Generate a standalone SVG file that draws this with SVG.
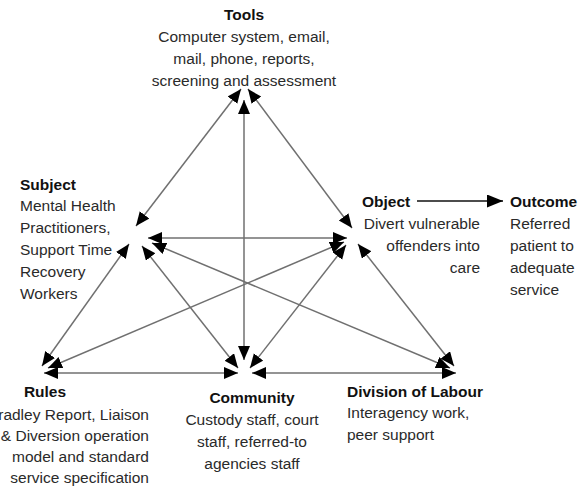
<svg xmlns="http://www.w3.org/2000/svg" width="585" height="488" viewBox="0 0 585 488">
  <style>
    text { font-family: "Liberation Sans", Arial, sans-serif; font-size: 15.5px; fill: #2a2a2a; }
    .title { font-weight: bold; fill: #111; }
    .mid { text-anchor: middle; }
    .end { text-anchor: end; }
    .link { stroke: #707070; stroke-width: 1.5; fill: none; marker-start: url(#head); marker-end: url(#head); }
    .flow { stroke: #111; stroke-width: 1.6; fill: none; marker-end: url(#headBig); }
  </style>
  <defs>
    <marker id="head" markerUnits="userSpaceOnUse" markerWidth="16" markerHeight="13" refX="14" refY="6" orient="auto-start-reverse">
      <path d="M0,0 L14,6 L0,12 z" fill="#000"/>
    </marker>
    <marker id="headBig" markerUnits="userSpaceOnUse" markerWidth="17" markerHeight="14" refX="16" refY="6.5" orient="auto">
      <path d="M0,0 L16,6.5 L0,13 z" fill="#000"/>
    </marker>
  </defs>
  <rect width="585" height="488" fill="#fff"/>

  <!-- relationships between the elements of the activity system -->
  <g id="connectors">
    <line class="link" x1="241" y1="89" x2="136" y2="226"/>
    <line class="link" x1="248" y1="89" x2="352" y2="228"/>
    <line class="link" x1="244" y1="100" x2="244" y2="360"/>
    <line class="link" x1="148" y1="238" x2="347" y2="238"/>
    <line class="link" x1="129" y1="244" x2="42" y2="366"/>
    <line class="link" x1="358" y1="244" x2="454" y2="366"/>
    <line class="link" x1="142" y1="246" x2="238" y2="368"/>
    <line class="link" x1="346" y1="245" x2="250" y2="368"/>
    <line class="link" x1="152" y1="243" x2="450" y2="368"/>
    <line class="link" x1="344" y1="242" x2="48" y2="368"/>
    <line class="link" x1="44" y1="373" x2="238" y2="373"/>
    <line class="link" x1="252" y1="373" x2="456" y2="373"/>
    <line class="flow" x1="417" y1="201" x2="503" y2="201"/>
  </g>

  <g id="tools">
    <text class="title mid" x="244" y="20">Tools</text>
    <text class="mid" x="244" y="42">Computer system, email,</text>
    <text class="mid" x="244" y="64">mail, phone, reports,</text>
    <text class="mid" x="244" y="86">screening and assessment</text>
  </g>

  <g id="subject">
    <text class="title" x="20" y="190">Subject</text>
    <text x="20" y="211">Mental Health</text>
    <text x="20" y="233">Practitioners,</text>
    <text x="20" y="255">Support Time</text>
    <text x="20" y="277">Recovery</text>
    <text x="20" y="299">Workers</text>
  </g>

  <g id="object">
    <text class="title" x="362" y="207">Object</text>
    <text class="end" x="480" y="229">Divert vulnerable</text>
    <text class="end" x="480" y="251">offenders into</text>
    <text class="end" x="480" y="273">care</text>
  </g>

  <g id="outcome">
    <text class="title" x="510" y="207">Outcome</text>
    <text x="510" y="229">Referred</text>
    <text x="510" y="251">patient to</text>
    <text x="510" y="273">adequate</text>
    <text x="510" y="295">service</text>
  </g>

  <g id="rules">
    <text class="title mid" x="45" y="397">Rules</text>
    <text class="end" x="149" y="420">Bradley Report, Liaison</text>
    <text class="end" x="149" y="441">&amp; Diversion operation</text>
    <text class="end" x="149" y="462">model and standard</text>
    <text class="end" x="149" y="483">service specification</text>
  </g>

  <g id="community">
    <text class="title mid" x="252" y="403">Community</text>
    <text class="mid" x="252" y="425">Custody staff, court</text>
    <text class="mid" x="252" y="447">staff, referred-to</text>
    <text class="mid" x="252" y="469">agencies staff</text>
  </g>

  <g id="division-of-labour">
    <text class="title" x="347" y="397">Division of Labour</text>
    <text x="347" y="418">Interagency work,</text>
    <text x="347" y="440">peer support</text>
  </g>
</svg>
